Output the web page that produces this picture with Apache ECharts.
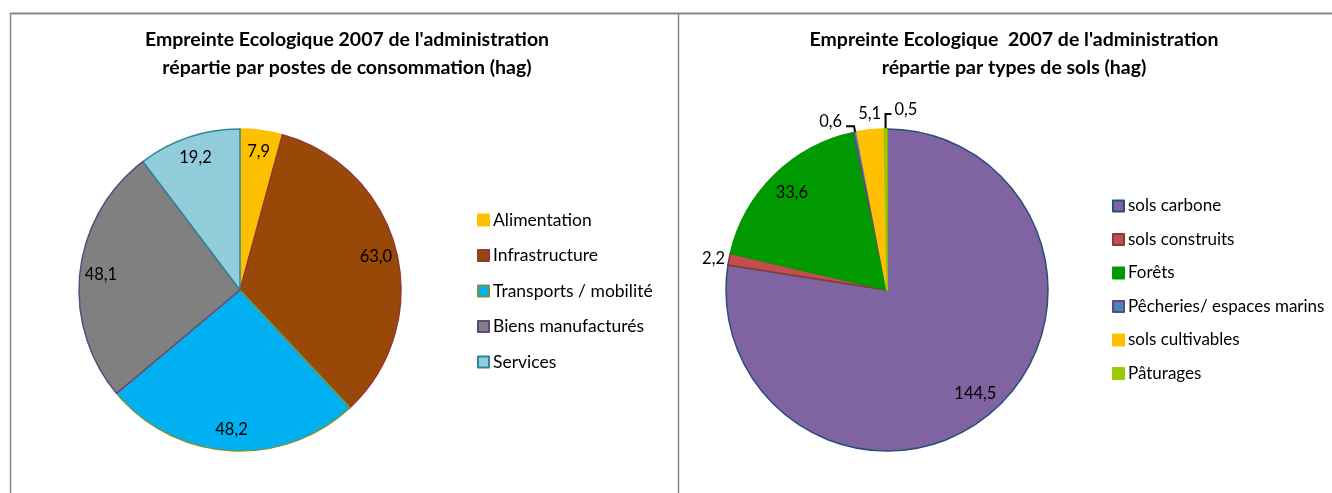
<!DOCTYPE html>
<html>
<head>
<meta charset="utf-8">
<script src="https://cdn.jsdelivr.net/npm/echarts@6/dist/echarts.min.js"></script>
<style>html,body{margin:0;padding:0;background:#fff;}#c{width:1332px;height:493px;}</style>
</head>
<body>
<div id="c"></div>
<script>
// ---- data ----
const leftTitle = "Empreinte Ecologique 2007 de l'administration\nrépartie par postes de consommation (hag)";
const leftCategories = ['Alimentation', 'Infrastructure', 'Transports / mobilité', 'Biens manufacturés', 'Services'];
const leftValues = [7.9, 63.0, 48.2, 48.1, 19.2];

const rightTitle = "Empreinte Ecologique  2007 de l'administration\nrépartie par types de sols (hag)";
const rightCategories = ['sols carbone', 'sols construits', 'Forêts', 'Pêcheries/ espaces marins', 'sols cultivables', 'Pâturages'];
const rightValues = [144.5, 2.2, 33.6, 0.6, 5.1, 0.5];

// ---- styles ----
const leftFill = ['#FFC000', '#984807', '#00B0F0', '#808080', '#92CDDC'];
const leftBorder = ['#FFC000', '#953735', '#77933C', '#5F497A', '#31859C'];
const rightFill = ['#8064A2', '#C0504D', '#009900', '#4F81BD', '#FFC000', '#99CC00'];
const rightBorder = ['#254E7A', '#8C3836', '#009900', '#5F497A', '#FFC000', '#99CC00'];
const rightInside = [true, false, true, false, false, false];
const rightLine = [null, {len: 0, len2: 0, show: false}, null, {len: 6, len2: 8, show: true}, {len: 8, len2: 0, show: true, hidden: true}, {len: 15, len2: 0, show: true}];

const FONT = 'Lato, "Open Sans", sans-serif';
const LABEL_SIZE = 16.5;
const fmt = v => v.toFixed(1).replace('.', ',');

const R = 161;
const LC = [240, 290], RC = [887, 290];
const insideR = 274; // overlay radius so inside label sits at ~0.85 R

function mainData(cats, vals, fill, border) {
  return cats.map((n, i) => ({
    name: n, value: vals[i],
    itemStyle: {color: fill[i], borderColor: border[i], borderWidth: 1.5}
  }));
}

const chart = echarts.init(document.getElementById('c'), null, {renderer: 'canvas'});

const rightMain = rightCategories.map((n, i) => {
  const d = {name: n, value: rightValues[i],
    itemStyle: {color: rightFill[i], borderColor: rightBorder[i], borderWidth: 1.5}};
  if (rightInside[i]) {
    d.label = {show: false};
  } else {
    const L = rightLine[i];
    d.label = {show: true, position: 'outside'};
    d.labelLine = {show: L.show, length: L.len, length2: L.len2,
      lineStyle: {color: '#000', width: L.hidden ? 0 : 2, opacity: L.hidden ? 0 : 1}};
  }
  return d;
});

chart.setOption({
  animation: false,
  textStyle: {fontFamily: FONT},
  graphic: [
    {type: 'line', shape: {x1: 10, y1: 13.5, x2: 1332, y2: 13.5}, style: {stroke: '#878787', lineWidth: 2}},
    {type: 'line', shape: {x1: 10.5, y1: 13, x2: 10.5, y2: 493}, style: {stroke: '#878787', lineWidth: 1.5}},
    {type: 'line', shape: {x1: 678.5, y1: 13, x2: 678.5, y2: 493}, style: {stroke: '#878787', lineWidth: 1.5}}
  ],
  title: [
    {text: leftTitle, left: 342, top: 21, textAlign: 'center',
      textStyle: {fontFamily: FONT, fontWeight: 'bold', fontSize: 19.5, lineHeight: 28, color: '#000'}},
    {text: rightTitle, left: 1009, top: 21, textAlign: 'center',
      textStyle: {fontFamily: FONT, fontWeight: 'bold', fontSize: 19.5, lineHeight: 28, color: '#000'}}
  ],
  legend: [
    {orient: 'vertical', left: 472, top: 206, itemWidth: 11, itemHeight: 11, itemGap: 17.5,
      data: leftCategories, icon: 'rect', selectedMode: false,
      textStyle: {fontFamily: FONT, fontSize: 17.5, color: '#000', padding: [0, 0, 0, -1]}},
    {orient: 'vertical', left: 1107, top: 192.5, itemWidth: 11, itemHeight: 11, itemGap: 16.5,
      data: rightCategories, icon: 'rect', selectedMode: false,
      textStyle: {fontFamily: FONT, fontSize: 17, color: '#000', padding: [0, 0, 0, -1]}}
  ],
  series: [
    {type: 'pie', center: LC, radius: R, startAngle: 90, clockwise: true,
      avoidLabelOverlap: false, label: {show: false}, labelLine: {show: false},
      emphasis: {disabled: true}, silent: true,
      data: mainData(leftCategories, leftValues, leftFill, leftBorder)},
    {type: 'pie', center: RC, radius: R, startAngle: 90, clockwise: true,
      avoidLabelOverlap: false, emphasis: {disabled: true}, silent: true,
      label: {fontFamily: FONT, fontSize: LABEL_SIZE, color: '#000', formatter: p => fmt(p.value), distanceToLabelLine: 4},
      data: rightMain,
      labelLayout: function (p) {
        const pts = p.labelLinePoints;
        if (!pts) return {};
        if (p.dataIndex === 5) {
          const end = [pts[1][0] + 6, pts[1][1]];
          return {x: end[0] + 3, y: end[1] + 4, align: 'left', verticalAlign: 'bottom',
            labelLinePoints: [pts[0], pts[1], end]};
        }
        if (p.dataIndex === 4) {
          return {x: pts[1][0], y: pts[1][1], align: 'center', verticalAlign: 'bottom'};
        }
        if (p.dataIndex === 3) {
          return {x: pts[2][0] - 4, y: pts[2][1] + 4, align: 'right', verticalAlign: 'bottom',
            labelLinePoints: pts};
        }
        return {};
      }},
    // overlays for inside labels
    {type: 'pie', center: LC, radius: insideR, startAngle: 90, clockwise: true, silent: true,
      emphasis: {disabled: true}, itemStyle: {color: 'rgba(0,0,0,0)', borderWidth: 0},
      label: {show: true, position: 'inside', fontFamily: FONT, fontSize: LABEL_SIZE, color: '#000', formatter: p => fmt(p.value)},
      labelLine: {show: false},
      data: leftCategories.map((n, i) => ({name: n, value: leftValues[i]}))},
    {type: 'pie', center: RC, radius: insideR * 0.97, startAngle: 90, clockwise: true, silent: true,
      emphasis: {disabled: true}, itemStyle: {color: 'rgba(0,0,0,0)', borderWidth: 0},
      labelLine: {show: false},
      data: rightCategories.map((n, i) => ({name: n, value: rightValues[i],
        label: {show: rightInside[i], position: 'inside', fontFamily: FONT, fontSize: LABEL_SIZE, color: '#000', formatter: p => fmt(p.value)}}))}
  ]
});
</script>
</body>
</html>
